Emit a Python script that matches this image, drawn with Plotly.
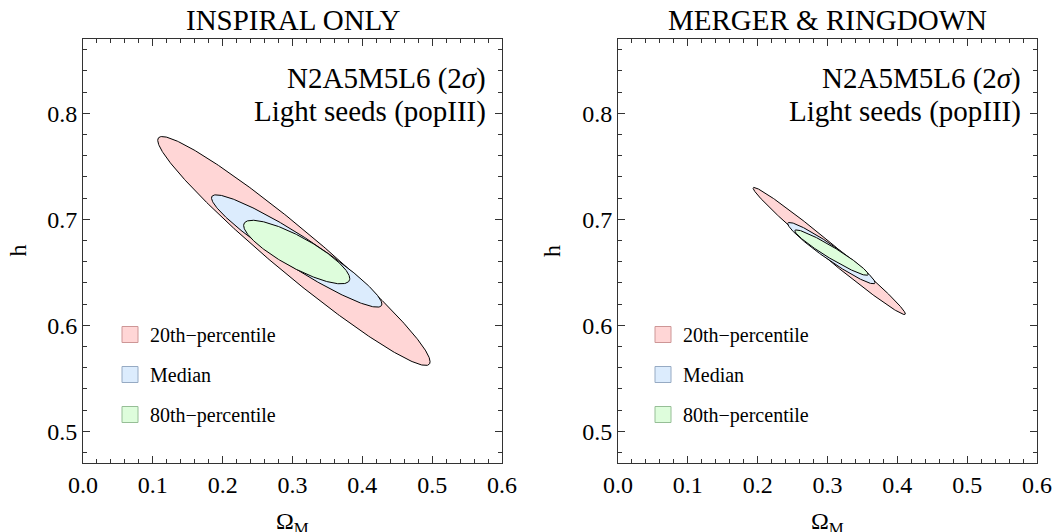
import numpy as np
import plotly.graph_objects as go

# ---- data ----
panels = ["INSPIRAL ONLY", "MERGER & RINGDOWN"]
levels = ["20th\u2212percentile", "Median", "80th\u2212percentile"]

# Fisher-ellipse parameters per panel, per level: centre, half-extent, correlation
inspiral_cx = [0.302, 0.306, 0.306]
inspiral_cy = [0.670, 0.670, 0.669]
inspiral_sx = [0.195, 0.122, 0.076]
inspiral_sy = [0.108, 0.053, 0.030]
inspiral_rho = [-0.967, -0.944, -0.835]

merger_cx = [0.3025, 0.3055, 0.3057]
merger_cy = [0.670, 0.668, 0.6685]
merger_sx = [0.109, 0.0625, 0.0525]
merger_sy = [0.060, 0.029, 0.0215]
merger_rho = [-0.989, -0.960, -0.957]

x_range = [0.0, 0.6]
y_range = [0.47, 0.87]
x_ticks = [0.0, 0.1, 0.2, 0.3, 0.4, 0.5, 0.6]
y_ticks = [0.5, 0.6, 0.7, 0.8]
label_line1 = "N2A5M5L6 (2<i>\u03c3</i>)"
label_line2 = "Light seeds (popIII)"

fill_colors = ["rgb(255,214,214)", "rgb(220,236,253)", "rgb(222,253,220)"]
swatch_lines = ["rgb(205,150,150)", "rgb(150,170,195)", "rgb(150,190,150)"]

FONT = "Liberation Serif"

fig = go.Figure()
t = np.linspace(0, 2 * np.pi, 400)


def ellipse(cx, cy, sx, sy, rho):
    x = cx + sx * np.cos(t)
    y = cy + sy * (rho * np.cos(t) + np.sqrt(1 - rho ** 2) * np.sin(t))
    return x, y


sets = [
    (inspiral_cx, inspiral_cy, inspiral_sx, inspiral_sy, inspiral_rho),
    (merger_cx, merger_cy, merger_sx, merger_sy, merger_rho),
]
for p, (cxs, cys, sxs, sys_, rhos) in enumerate(sets):
    xa = "x" if p == 0 else "x2"
    ya = "y" if p == 0 else "y2"
    lg = "legend" if p == 0 else "legend2"
    for i in range(3):
        ex, ey = ellipse(cxs[i], cys[i], sxs[i], sys_[i], rhos[i])
        fig.add_trace(go.Scatter(
            x=ex, y=ey, mode="lines", fill="toself",
            fillcolor=fill_colors[i], line=dict(color="black", width=1),
            showlegend=False, hoverinfo="skip", xaxis=xa, yaxis=ya))
    for i in range(3):
        fig.add_trace(go.Scatter(
            x=[None], y=[None], mode="markers", name=levels[i],
            marker=dict(symbol="square", size=17, color=fill_colors[i],
                        line=dict(color=swatch_lines[i], width=1)),
            legend=lg, legendgroup=f"{p}-{i}", xaxis=xa, yaxis=ya))

W, H = 1060, 532
dom_x1 = [83 / W, 502 / W]
dom_x2 = [618 / W, 1037 / W]
dom_y = [(H - 463) / H, (H - 39) / H]

axis_common = dict(
    showline=True, linecolor="#333", linewidth=1, mirror="ticks",
    ticks="inside", ticklen=7, tickwidth=1, tickcolor="#333",
    showgrid=False, zeroline=False, automargin=False,
    tickfont=dict(family=FONT, size=24, color="black"),
    minor=dict(ticks="inside", ticklen=4, tickwidth=1, tickcolor="#333", showgrid=False),
)

fig.update_layout(
    width=W, height=H, margin=dict(l=0, r=0, t=0, b=0),
    paper_bgcolor="white", plot_bgcolor="white",
    font=dict(family=FONT, color="black"),
    xaxis=dict(domain=dom_x1, range=x_range, tickvals=x_ticks, ticktext=[f"{v:.1f}" for v in x_ticks],
               minor_dtick=0.02, minor_tick0=0, anchor="y", **axis_common),
    yaxis=dict(domain=dom_y, range=y_range, tickvals=y_ticks, ticktext=[f"{v:.1f}" for v in y_ticks],
               minor_dtick=0.02, minor_tick0=0, anchor="x", **axis_common),
    xaxis2=dict(domain=dom_x2, range=x_range, tickvals=x_ticks, ticktext=[f"{v:.1f}" for v in x_ticks],
                minor_dtick=0.02, minor_tick0=0, anchor="y2", **axis_common),
    yaxis2=dict(domain=dom_y, range=y_range, tickvals=y_ticks, ticktext=[f"{v:.1f}" for v in y_ticks],
                minor_dtick=0.02, minor_tick0=0, anchor="x2", **axis_common),
    legend=dict(x=110 / W, y=1 - 315 / H, xanchor="left", yanchor="top",
                bgcolor="rgba(0,0,0,0)", font=dict(family=FONT, size=20),
                tracegroupgap=11, itemclick=False, itemdoubleclick=False),
    legend2=dict(x=643 / W, y=1 - 315 / H, xanchor="left", yanchor="top",
                 bgcolor="rgba(0,0,0,0)", font=dict(family=FONT, size=20),
                 tracegroupgap=11, itemclick=False, itemdoubleclick=False),
    showlegend=True,
)

annots = []
for p, title in enumerate(panels):
    xd = "x domain" if p == 0 else "x2 domain"
    yd = "y domain" if p == 0 else "y2 domain"
    annots.append(dict(text=title, xref=xd, yref="paper", x=0.5, y=1 - 20 / H,
                       xanchor="center", yanchor="middle", showarrow=False,
                       font=dict(family=FONT, size=29)))
    annots.append(dict(text=label_line1, xref=xd, yref=yd, x=0.967, y=0.906,
                       xanchor="right", yanchor="middle", showarrow=False,
                       font=dict(family=FONT, size=29)))
    annots.append(dict(text=label_line2, xref=xd, yref=yd, x=0.967, y=0.828,
                       xanchor="right", yanchor="middle", showarrow=False,
                       font=dict(family=FONT, size=29)))
    annots.append(dict(text="\u03a9<sub>M</sub>", xref=xd, yref="paper", x=0.5, y=1 - 523 / H,
                       xanchor="center", yanchor="middle", showarrow=False,
                       font=dict(family=FONT, size=24)))
    annots.append(dict(text="h", xref="paper", yref=yd, x=(17.5 if p == 0 else 552) / W, y=0.5,
                       xanchor="center", yanchor="middle", textangle=-90, showarrow=False,
                       font=dict(family=FONT, size=24)))
fig.update_layout(annotations=annots)

fig.write_html("out.html", config={"displayModeBar": False},
               post_script="document.body.style.margin='0';")
